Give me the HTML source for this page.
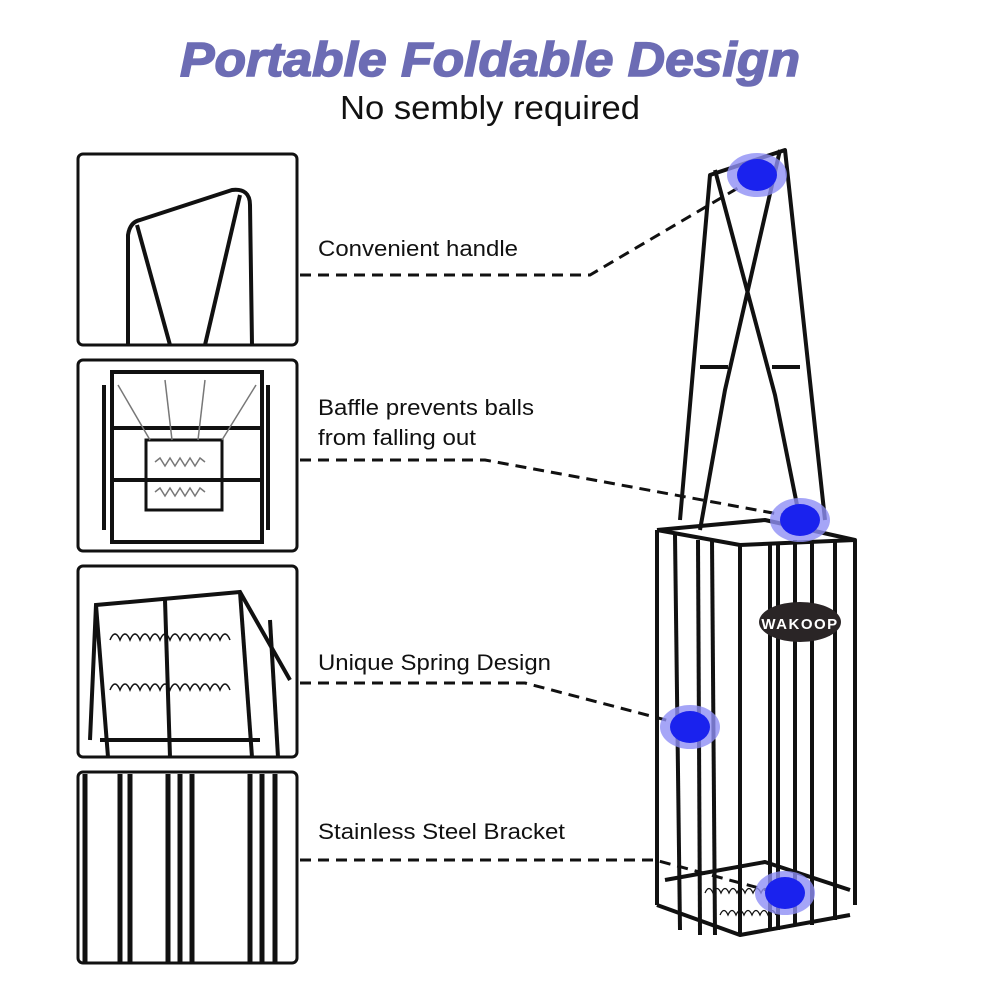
<!DOCTYPE html>
<html><head><meta charset="utf-8"><style>
body{margin:0;background:#fff;}
svg{display:block}
</style></head><body>
<svg width="1000" height="1000" viewBox="0 0 1000 1000" xmlns="http://www.w3.org/2000/svg">
<text x="180" y="76" textLength="620" lengthAdjust="spacingAndGlyphs" font-family="Liberation Sans, sans-serif" font-size="48" font-weight="bold" font-style="italic" fill="#6c6cb4" stroke="#6c6cb4" stroke-width="1.5">Portable Foldable Design</text>
<text x="340" y="119" textLength="300" lengthAdjust="spacingAndGlyphs" font-family="Liberation Sans, sans-serif" font-size="33" fill="#111">No sembly required</text>

<g fill="none" stroke="#111" stroke-width="3">
<rect x="78" y="154" width="219" height="191" rx="5"/>
<rect x="78" y="360" width="219" height="191" rx="5"/>
<rect x="78" y="566" width="219" height="191" rx="5"/>
<rect x="78" y="772" width="219" height="191" rx="5"/>
</g>
<!-- panel 1 handle -->
<g fill="none" stroke="#111" stroke-width="4" stroke-linejoin="round">
<path d="M128,345 L128,235 Q130,222 140,220 L232,190 Q250,188 250,205 L252,345"/>
<path d="M137,225 L170,345"/>
<path d="M240,195 L205,345"/>
</g>
<!-- panel 2 -->
<g fill="none" stroke="#111" stroke-width="4">
<rect x="112" y="372" width="150" height="170"/>
<line x1="104" y1="385" x2="104" y2="530"/><line x1="268" y1="385" x2="268" y2="530"/>
<line x1="112" y1="428" x2="262" y2="428"/><line x1="112" y1="480" x2="262" y2="480"/>
<rect x="146" y="440" width="76" height="70" stroke-width="3"/>
</g>
<g stroke="#777" stroke-width="1.5" fill="none">
<line x1="118" y1="385" x2="150" y2="440"/><line x1="256" y1="385" x2="222" y2="440"/>
<line x1="165" y1="380" x2="172" y2="440"/><line x1="205" y1="380" x2="198" y2="440"/>
<path d="M155,462 l5,-4 l5,8 l5,-8 l5,8 l5,-8 l5,8 l5,-8 l5,8 l5,-8 l5,4"/>
<path d="M155,492 l5,-4 l5,8 l5,-8 l5,8 l5,-8 l5,8 l5,-8 l5,8 l5,-8 l5,4"/>
</g>
<!-- panel 3 -->
<g fill="none" stroke="#111" stroke-width="4">
<path d="M90,740 L96,605 L240,592 L290,680"/>
<path d="M96,605 L108,757"/><path d="M240,592 L252,757"/>
<path d="M270,620 L278,757"/>
<line x1="100" y1="740" x2="260" y2="740"/>
<line x1="165" y1="600" x2="170" y2="757"/>
</g>
<g stroke="#111" stroke-width="1.5" fill="none">
<path d="M110,640 q5,-12 10,0 q5,-12 10,0 q5,-12 10,0 q5,-12 10,0 q5,-12 10,0 q5,-12 10,0 q5,-12 10,0 q5,-12 10,0 q5,-12 10,0 q5,-12 10,0 q5,-12 10,0 q5,-12 10,0"/>
<path d="M110,690 q5,-12 10,0 q5,-12 10,0 q5,-12 10,0 q5,-12 10,0 q5,-12 10,0 q5,-12 10,0 q5,-12 10,0 q5,-12 10,0 q5,-12 10,0 q5,-12 10,0 q5,-12 10,0 q5,-12 10,0"/>
</g>
<!-- panel 4 -->
<g stroke="#111" stroke-width="5">
<line x1="85" y1="774" x2="85" y2="962"/><line x1="120" y1="774" x2="120" y2="962"/>
<line x1="130" y1="774" x2="130" y2="962"/><line x1="168" y1="774" x2="168" y2="962"/>
<line x1="180" y1="774" x2="180" y2="962"/><line x1="192" y1="774" x2="192" y2="962"/>
<line x1="250" y1="774" x2="250" y2="962"/><line x1="262" y1="774" x2="262" y2="962"/>
<line x1="275" y1="774" x2="275" y2="962"/>
</g>

<g font-family="Liberation Sans, sans-serif" font-size="22" fill="#111">
<text x="318" y="256" textLength="200" lengthAdjust="spacingAndGlyphs">Convenient handle</text>
<text x="318" y="415" textLength="216" lengthAdjust="spacingAndGlyphs">Baffle prevents balls</text>
<text x="318" y="445" textLength="158" lengthAdjust="spacingAndGlyphs">from falling out</text>
<text x="318" y="670" textLength="233" lengthAdjust="spacingAndGlyphs">Unique Spring Design</text>
<text x="318" y="839" textLength="247" lengthAdjust="spacingAndGlyphs">Stainless Steel Bracket</text>
</g>

<!-- cage -->
<g fill="none" stroke="#111" stroke-width="4" stroke-linejoin="round">
<path d="M680,520 L710,175 L785,150 L825,520"/>
<path d="M700,530 L725,390 L780,150"/>
<path d="M715,170 L775,395 L800,520"/>
<line x1="700" y1="367" x2="728" y2="367"/><line x1="772" y1="367" x2="800" y2="367"/>
<path d="M657,530 L765,520 L855,540 L855,905"/>
<path d="M657,530 L740,545 L855,540"/>
<line x1="657" y1="530" x2="657" y2="905"/>
<line x1="740" y1="545" x2="740" y2="935"/>
<path d="M657,905 L740,935 L850,915"/>
<path d="M665,880 L765,862 L850,890"/>
<line x1="675" y1="535" x2="680" y2="930"/>
<line x1="698" y1="540" x2="700" y2="935"/>
<line x1="712" y1="540" x2="715" y2="935"/>
<line x1="770" y1="545" x2="770" y2="930"/>
<line x1="778" y1="545" x2="778" y2="930"/>
<line x1="795" y1="540" x2="795" y2="925"/>
<line x1="812" y1="540" x2="812" y2="925"/>
<line x1="835" y1="540" x2="835" y2="920"/>
</g>
<g stroke="#111" stroke-width="1.3" fill="none">
<path d="M705,893 q4,-9 8,0 q4,-9 8,0 q4,-9 8,0 q4,-9 8,0 q4,-9 8,0 q4,-9 8,0 q4,-9 8,0 q4,-9 8,0 q4,-9 8,0"/>
<path d="M720,915 q4,-9 8,0 q4,-9 8,0 q4,-9 8,0 q4,-9 8,0 q4,-9 8,0 q4,-9 8,0 q4,-9 8,0"/>
</g>
<ellipse cx="800" cy="622" rx="41" ry="20" fill="#2a2526"/>
<text x="800" y="629" text-anchor="middle" font-family="Liberation Sans, sans-serif" font-size="15" font-weight="bold" fill="#fff" letter-spacing="1.5">WAKOOP</text>

<g fill="none" stroke="#111" stroke-width="3" stroke-dasharray="11,7">
<path d="M300,275 L590,275 L760,175"/>
<path d="M300,460 L485,460 L800,518"/>
<path d="M300,683 L525,683 L685,725"/>
<path d="M300,860 L655,860 L785,895"/>
</g>
<g>
<ellipse cx="757" cy="175" rx="30" ry="22" fill="#8f8ff5" opacity="0.8"/>
<ellipse cx="757" cy="175" rx="20" ry="16" fill="#1a22ee"/>
<ellipse cx="800" cy="520" rx="30" ry="22" fill="#8f8ff5" opacity="0.8"/>
<ellipse cx="800" cy="520" rx="20" ry="16" fill="#1a22ee"/>
<ellipse cx="690" cy="727" rx="30" ry="22" fill="#8f8ff5" opacity="0.8"/>
<ellipse cx="690" cy="727" rx="20" ry="16" fill="#1a22ee"/>
<ellipse cx="785" cy="893" rx="30" ry="22" fill="#8f8ff5" opacity="0.8"/>
<ellipse cx="785" cy="893" rx="20" ry="16" fill="#1a22ee"/>
</g>
</svg>
</body></html>
